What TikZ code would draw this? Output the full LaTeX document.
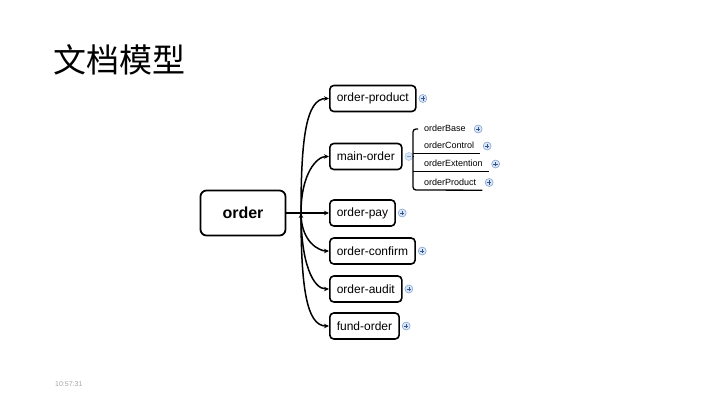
\documentclass[tikz,border=0pt]{standalone}
\usepackage{fontspec}
\setmainfont{Liberation Sans}
\newfontfamily\cjk{Noto Sans CJK SC}
\usepackage{tikz}
\usetikzlibrary{arrows.meta,positioning}
\definecolor{plusfill}{RGB}{218,230,246}
\definecolor{plusline}{RGB}{120,155,205}
\definecolor{plusmark}{RGB}{50,85,145}

\begin{document}
\begin{tikzpicture}[x=1pt,y=-1pt]
  \tikzstyle{every node}=[font=\fontsize{12}{14}\selectfont]
  \tikzstyle{root}=[draw,line width=1.8pt,rounded corners=6pt,minimum width=85pt,minimum height=45pt,font=\fontsize{16}{18}\selectfont\bfseries]
  \tikzstyle{topic}=[draw,line width=1.6pt,rounded corners=4pt,anchor=west,minimum height=26pt,inner xsep=7pt]
  \tikzstyle{leaf}=[anchor=west,inner xsep=6pt,inner ysep=3.5pt,text height=6.5pt,text depth=1.5pt,font=\fontsize{9}{10}\selectfont]
  \tikzstyle{expand}=[circle,fill=plusfill,draw=plusline,line width=0.5pt,minimum size=8pt,inner sep=0pt,
    path picture={\draw[plusmark,line width=0.5pt] (path picture bounding box.center) ++(-2.2pt,0) -- ++(4.4pt,0)
      (path picture bounding box.center) ++(0,-2.2pt) -- ++(0,4.4pt);}]
  \tikzstyle{collapse}=[circle,fill=plusfill,draw=plusline!60,line width=0.5pt,minimum size=8pt,inner sep=0pt,
    path picture={\draw[plusline,line width=0.5pt] (path picture bounding box.center) ++(-2.2pt,0) -- ++(4.4pt,0);}]
  \tikzstyle{wire}=[line width=1.5pt]
  \tikzstyle{spine}=[line width=1.3pt,rounded corners=3pt]
  \tikzstyle{rise}=[out=90,in=180,out looseness=1.6,in looseness=0.5]
  \tikzstyle{fall}=[out=270,in=180,out looseness=1.6,in looseness=0.5]
  \useasboundingbox (0,0) rectangle (720,405);
  \path (53,60) node[anchor=west,inner sep=0pt,font=\cjk\fontsize{33}{36}\selectfont] (title) {文档模型};
  \path (55,384) node[anchor=west,inner sep=0pt,font=\fontsize{7}{8}\selectfont,text=gray!70] (clock) {10:57:31};
  \path (243,213) node[root] (order) {order};
  \coordinate (fork) at (301,213);
  \path (329,98.5) node[topic] (product) {order-product};
\path (329,156.5) node[topic] (main) {main-order};
\path (329,213) node[topic] (pay) {order-pay};
  \path (329,251) node[topic] (confirm) {order-confirm};
\path (329,289) node[topic] (audit) {order-audit};
  \path (329,326) node[topic] (fundorder) {fund-order};
  \node[expand,right=2pt of product] (product-plus) {};
  \node[collapse,right=2pt of main] (main-minus) {};
  \node[expand,right=2pt of pay] (pay-plus) {};
  \node[expand,right=2pt of confirm] (confirm-plus) {};
  \node[expand,right=2pt of audit] (audit-plus) {};
  \node[expand,right=2pt of fundorder] (fundorder-plus) {};
  \coordinate (spinetop) at (413,128);
  \coordinate (spinebot) at (413,190);
  \path (418,129) node[leaf] (base) {orderBase};
  \path (418,146) node[leaf] (control) {orderControl};
\path (418,164) node[leaf] (extention) {orderExtention};
  \path (418,182.5) node[leaf] (subproduct) {orderProduct};
  \node[expand,right=2pt of base] (base-plus) {};
  \node[expand,right=2.5pt of control] (control-plus) {};
  \node[expand,right=2.5pt of extention] (extention-plus) {};
  \node[expand,right=2.5pt of subproduct] (subproduct-plus) {};
  \draw[wire] (order.east) -- (fork);
  \draw[wire,-{Stealth[length=5pt,width=4.5pt]}] (fork)
        edge[rise] (product.west)
        edge[rise] (main.west)
 edge (pay.west)
        edge[fall] (confirm.west)
        edge[fall] (audit.west)
        edge[fall] (fundorder.west);
  \draw[spine] (base.west) -- (base.west -| spinetop) -- (spinebot) -- (subproduct.south east);
  \draw[spine] (control.south -| spinebot) -- (control.south east)
        (extention.south -| spinebot) -- (extention.south east)
        (main-minus.east) -- (main-minus.east -| spinebot);
\end{tikzpicture}
\end{document}
